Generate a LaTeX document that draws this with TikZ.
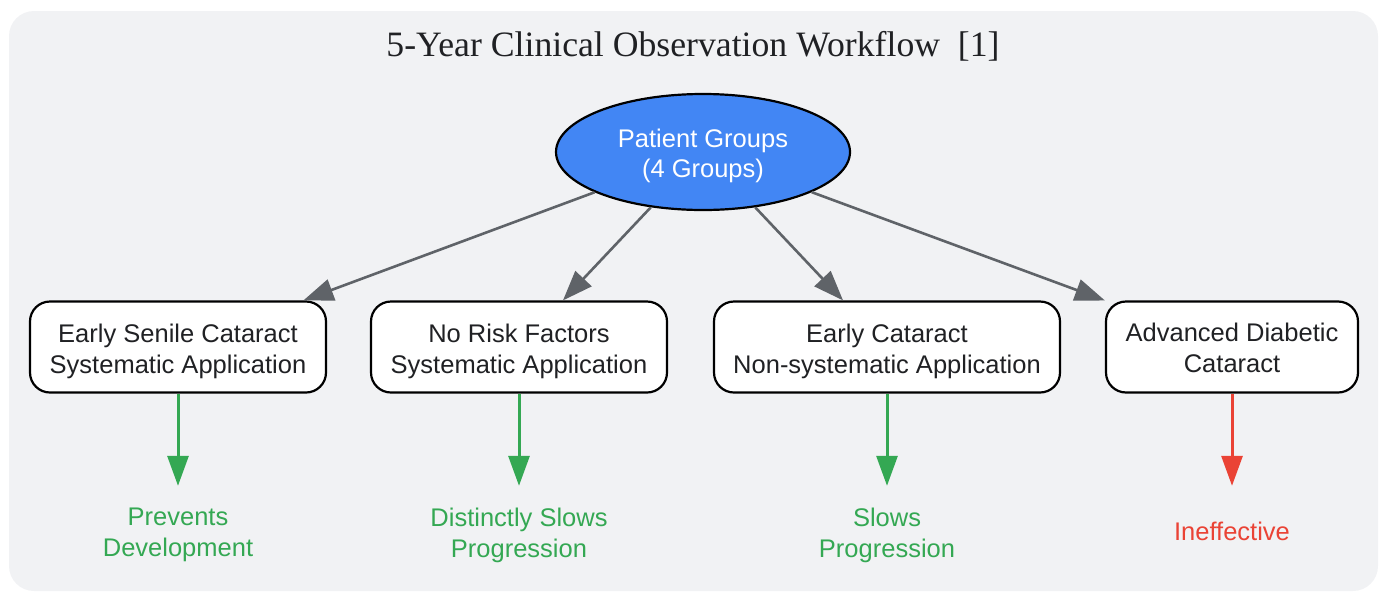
\documentclass[tikz,border=0pt]{standalone}
\usepackage{fontspec}
\setmainfont{Liberation Sans}
\newfontfamily\titlefont{Liberation Serif}
\usetikzlibrary{arrows.meta,shapes.geometric}
\definecolor{bgc}{HTML}{F1F2F4}
\definecolor{txt}{HTML}{202124}
\definecolor{blueg}{HTML}{4286F4}
\definecolor{greeng}{HTML}{34A853}
\definecolor{redg}{HTML}{EA4335}
\definecolor{grayg}{HTML}{5F6368}
\newcommand{\dnstrut}{\rule{0pt}{26.5pt}}
\newcommand{\dnstrutb}{\rule{0pt}{21pt}}
\tikzset{
  boxstyle/.style={draw=black, fill=white, line width=2.2pt, rounded corners=20pt,
    minimum height=91pt, inner sep=0pt, align=center, text=txt,
    font=\fontsize{25.5}{31}\selectfont},
  ellstyle/.style={ellipse, draw=black, fill=blueg, line width=2.2pt,
    minimum width=294pt, minimum height=116pt, inner sep=0pt, align=center,
    text=white, font=\fontsize{25.5}{30.5}\selectfont},
  outcome/.style={inner sep=0pt, align=center, font=\fontsize{25.5}{31}\selectfont},
  grayarrow/.style={draw=grayg, line width=2.6pt, -{Triangle[length=30pt,width=22pt]}},
  colarrow/.style={line width=3pt, -{Triangle[length=30pt,width=21pt]}},
}
\begin{document}
\begin{tikzpicture}[x=1pt,y=-1pt]
\useasboundingbox (0,0) rectangle (1383,592);
\fill[bgc, rounded corners=25pt] (9,11) rectangle (1378,591);
\node[font=\titlefont\fontsize{35.7}{40}\selectfont, text=txt] (title) at (693,46) {5-Year Clinical Observation Workflow\ \ [1]};
\node[ellstyle] (pg) at (703,152) {\dnstrut Patient Groups\\(4 Groups)};
\node[boxstyle, minimum width=296pt] (b1) at (178,347) {\dnstrut Early Senile Cataract\\Systematic Application};
\node[boxstyle, minimum width=296pt] (b2) at (519,347) {\dnstrut No Risk Factors\\Systematic Application};
\node[boxstyle, minimum width=346pt] (b3) at (887,347) {\dnstrut Early Cataract\\Non-systematic Application};
\node[boxstyle, minimum width=252pt] (b4) at (1232,347) {\dnstrutb Advanced Diabetic\\Cataract};
\node[outcome, text=greeng, minimum height=98pt] (o1) at (178,535) {Prevents\\Development};
\node[outcome, text=greeng, minimum height=98pt] (o2) at (519,535) {Distinctly Slows\\Progression};
\node[outcome, text=greeng, minimum height=98pt] (o3) at (887,535) {Slows\\Progression};
\node[outcome, text=redg, minimum height=90pt] (o4) at (1232,531) {Ineffective};
\foreach \b in {b1,b2,b3,b4} \draw[grayarrow] (pg) -- (\b);
\draw[colarrow, draw=greeng, fill=greeng] (b1.south) -- (o1.north);
\draw[colarrow, draw=greeng, fill=greeng] (b2.south) -- (o2.north);
\draw[colarrow, draw=greeng, fill=greeng] (b3.south) -- (o3.north);
\draw[colarrow, draw=redg, fill=redg] (b4.south) -- (o4.north);
\end{tikzpicture}
\end{document}
